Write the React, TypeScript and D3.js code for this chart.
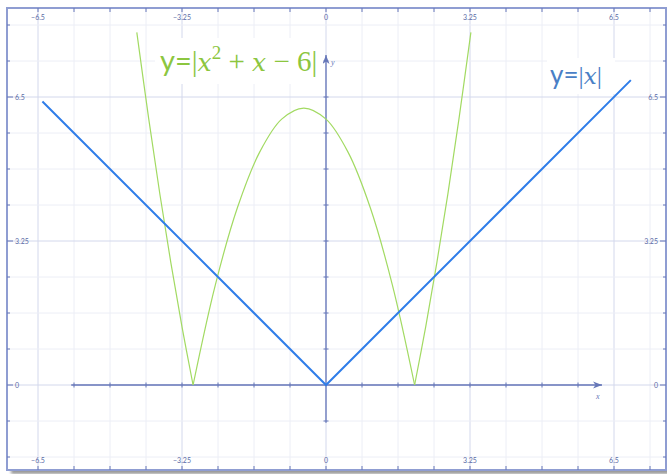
import React from "react";
import * as d3 from "d3";

const W = 667;
const H = 474;

// tick values / labels
const majorTicks = [-6.5, -3.25, 0, 3.25, 6.5];
const majorLabels = ["−6.5", "−3.25", "0", "3.25", "6.5"];
const sideTicks = [6.5, 3.25, 0];
const sideLabels = ["6.5", "3.25", "0"];
const minorStep = 0.8125;
const gridXIdx = d3.range(-8, 10); // multiples of minorStep
const gridYIdx = d3.range(-2, 11);

// y = |x|
const absX = [-6.4, 0, 6.88];
const absY = [6.4, 0, 6.88];

// y = |x^2 + x - 6|, three pieces split at the cusps
const quadSeg1X = [-4.27, -4, -3.75, -3.5, -3.25, -3];
const quadSeg1Y = [7.96, 6, 4.31, 2.75, 1.31, 0];
const quadSeg2X = [-3, -2.5, -2, -1.5, -1, -0.5, 0, 0.5, 1, 1.5, 2];
const quadSeg2Y = [0, 2.25, 4, 5.25, 6, 6.25, 6, 5.25, 4, 2.25, 0];
const quadSeg3X = [2, 2.25, 2.5, 2.75, 3, 3.27];
const quadSeg3Y = [0, 1.31, 2.75, 4.31, 6, 7.96];

const BLUE = "#2f7de9";
const GREEN = "#a2da62";
const GREEN_TXT = "#8cc63f";
const BLUE_TXT = "#4a7fc6";
const AXIS = "#6677b8";
const FRAME = "#8f9dd2";
const GRID_MINOR = "#eceef6";
const GRID_MAJOR = "#d3d8ec";
const TICK_TXT = "#5a6aa6";
const OPS = "'Liberation Serif', serif";
const VAR = "'DejaVu Serif', serif";

export default function App() {
  const x = d3.scaleLinear().domain([0, 6.5]).range([326, 614]);
  const y = d3.scaleLinear().domain([0, 6.5]).range([385, 97]);

  const left = 7;
  const right = 666;
  const top = 8;
  const bottom = 470;

  const line = (xs: number[], ys: number[], curve: any) =>
    d3
      .line<number>()
      .x((d, i) => x(xs[i]))
      .y((d, i) => y(ys[i]))
      .curve(curve)(xs) || "";

  const isMajor = (k: number) => k % 4 === 0;

  const axisXStart = -5.75;
  const axisXEnd = 6.23;
  const axisYStart = -0.85;
  const axisYEnd = 7.45;

  return (
    <svg
      width={W}
      height={H}
      style={{ position: "absolute", left: 0, top: 0, background: "#fff" }}
    >
      <defs>
        <filter id="sh" x="-5%" y="-5%" width="110%" height="120%">
          <feGaussianBlur stdDeviation="1.5" />
        </filter>
      </defs>
      {/* shadow */}
      <rect x={left + 4} y={bottom - 2} width={W} height={6} fill="#9a9a9a" filter="url(#sh)" />
      <rect x={left} y={top} width={right - left} height={bottom - top} fill="#fff" />

      {/* grid */}
      {gridXIdx.map((k) => (
        <line
          key={"gx" + k}
          x1={x(k * minorStep)}
          x2={x(k * minorStep)}
          y1={top}
          y2={bottom}
          stroke={isMajor(k) ? GRID_MAJOR : GRID_MINOR}
          strokeWidth={1}
        />
      ))}
      {gridYIdx.map((k) => (
        <line
          key={"gy" + k}
          y1={y(k * minorStep)}
          y2={y(k * minorStep)}
          x1={left}
          x2={right}
          stroke={isMajor(k) ? GRID_MAJOR : GRID_MINOR}
          strokeWidth={1}
        />
      ))}

      {/* frame */}
      <rect
        x={left}
        y={top}
        width={right - left}
        height={bottom - top}
        fill="none"
        stroke={FRAME}
        strokeWidth={2}
      />
      {/* frame ticks */}
      {gridXIdx.map((k) => (
        <g key={"fx" + k}>
          <line x1={x(k * minorStep)} x2={x(k * minorStep)} y1={top} y2={top + 4} stroke={AXIS} />
          <line x1={x(k * minorStep)} x2={x(k * minorStep)} y1={bottom} y2={bottom - 4} stroke={AXIS} />
        </g>
      ))}
      {gridYIdx.map((k) => (
        <g key={"fy" + k}>
          <line y1={y(k * minorStep)} y2={y(k * minorStep)} x1={left} x2={left + (isMajor(k) ? 6 : 3)} stroke={AXIS} />
          <line y1={y(k * minorStep)} y2={y(k * minorStep)} x1={right} x2={right - (isMajor(k) ? 6 : 3)} stroke={AXIS} />
        </g>
      ))}
      {/* frame labels */}
      {majorTicks.map((v, i) => (
        <g key={"ml" + i} fontFamily="Lato, 'Noto Sans', sans-serif" fontSize={7} fill={TICK_TXT}>
          <text x={x(v)} y={top + 11.5} textAnchor="middle">
            {majorLabels[i]}
          </text>
          <text x={x(v)} y={bottom - 7} textAnchor="middle">
            {majorLabels[i]}
          </text>
        </g>
      ))}
      {sideTicks.map((v, i) => (
        <g key={"sl" + i} fontFamily="Lato, 'Noto Sans', sans-serif" fontSize={7} fill={TICK_TXT}>
          <text x={left + 8} y={y(v) + 2.5} textAnchor="start">
            {sideLabels[i]}
          </text>
          <text x={right - 8} y={y(v) + 2.5} textAnchor="end">
            {sideLabels[i]}
          </text>
        </g>
      ))}

      {/* axes */}
      <line x1={x(axisXStart)} x2={x(axisXEnd)} y1={y(0)} y2={y(0)} stroke={AXIS} strokeWidth={1.3} />
      {gridXIdx
        .filter((k) => k * minorStep > axisXStart && k * minorStep < axisXEnd && k !== 0)
        .map((k) => (
          <line
            key={"ax" + k}
            x1={x(k * minorStep)}
            x2={x(k * minorStep)}
            y1={y(0) - 2.5}
            y2={y(0) + 2.5}
            stroke={AXIS}
          />
        ))}
      <path
        d={`M${x(axisXEnd)},${y(0)} l-9,-3.5 l2.5,3.5 l-2.5,3.5 z`}
        fill={AXIS}
      />
      <text
        x={x(axisXEnd) - 6}
        y={y(0) + 14}
        fontFamily="'Liberation Serif', serif"
        fontStyle="italic"
        fontSize={8}
        fill={AXIS}
      >
        x
      </text>

      <line x1={x(0)} x2={x(0)} y1={y(axisYStart)} y2={y(axisYEnd)} stroke={AXIS} strokeWidth={1.3} />
      {gridYIdx
        .filter((k) => k * minorStep > axisYStart && k * minorStep < axisYEnd && k !== 0)
        .map((k) => (
          <line
            key={"ay" + k}
            y1={y(k * minorStep)}
            y2={y(k * minorStep)}
            x1={x(0) - 2.5}
            x2={x(0) + 2.5}
            stroke={AXIS}
          />
        ))}
      <path
        d={`M${x(0)},${y(axisYEnd)} l-3.5,9 l3.5,-2.5 l3.5,2.5 z`}
        fill={AXIS}
      />
      <text
        x={x(0) + 5}
        y={y(axisYEnd) + 10}
        fontFamily="'Liberation Serif', serif"
        fontStyle="italic"
        fontSize={8}
        fill={AXIS}
      >
        y
      </text>

      {/* curves */}
      <path d={line(quadSeg1X, quadSeg1Y, d3.curveCatmullRom)} fill="none" stroke={GREEN} strokeWidth={1.2} />
      <path d={line(quadSeg2X, quadSeg2Y, d3.curveCatmullRom)} fill="none" stroke={GREEN} strokeWidth={1.2} />
      <path d={line(quadSeg3X, quadSeg3Y, d3.curveCatmullRom)} fill="none" stroke={GREEN} strokeWidth={1.2} />
      <path d={line(absX, absY, d3.curveLinear)} fill="none" stroke={BLUE} strokeWidth={2} />

      {/* labels */}
      <rect x={155} y={38} width={168} height={46} fill="#fff" />
      <text x={160} y={71} fontSize={29} fill={GREEN_TXT}>
        <tspan fontFamily="Lato, sans-serif">y=</tspan>
        <tspan fontFamily={OPS}>|</tspan>
        <tspan fontFamily={VAR} fontStyle="italic" fontSize={25}>x</tspan>
        <tspan fontFamily={OPS} fontSize={19} dy={-12}>2</tspan>
        <tspan fontFamily={OPS} dy={12}>{" + "}</tspan>
        <tspan fontFamily={VAR} fontStyle="italic" fontSize={25}>x</tspan>
        <tspan fontFamily={OPS}>{" − 6|"}</tspan>
      </text>

      <rect x={547} y={58} width={68} height={36} fill="#fff" />
      <text x={550} y={84} fontSize={26} fill={BLUE_TXT}>
        <tspan fontFamily="Lato, sans-serif">y=</tspan>
        <tspan fontFamily={OPS}>|</tspan>
        <tspan fontFamily={VAR} fontStyle="italic" fontSize={23}>x</tspan>
        <tspan fontFamily={OPS}>|</tspan>
      </text>
    </svg>
  );
}
